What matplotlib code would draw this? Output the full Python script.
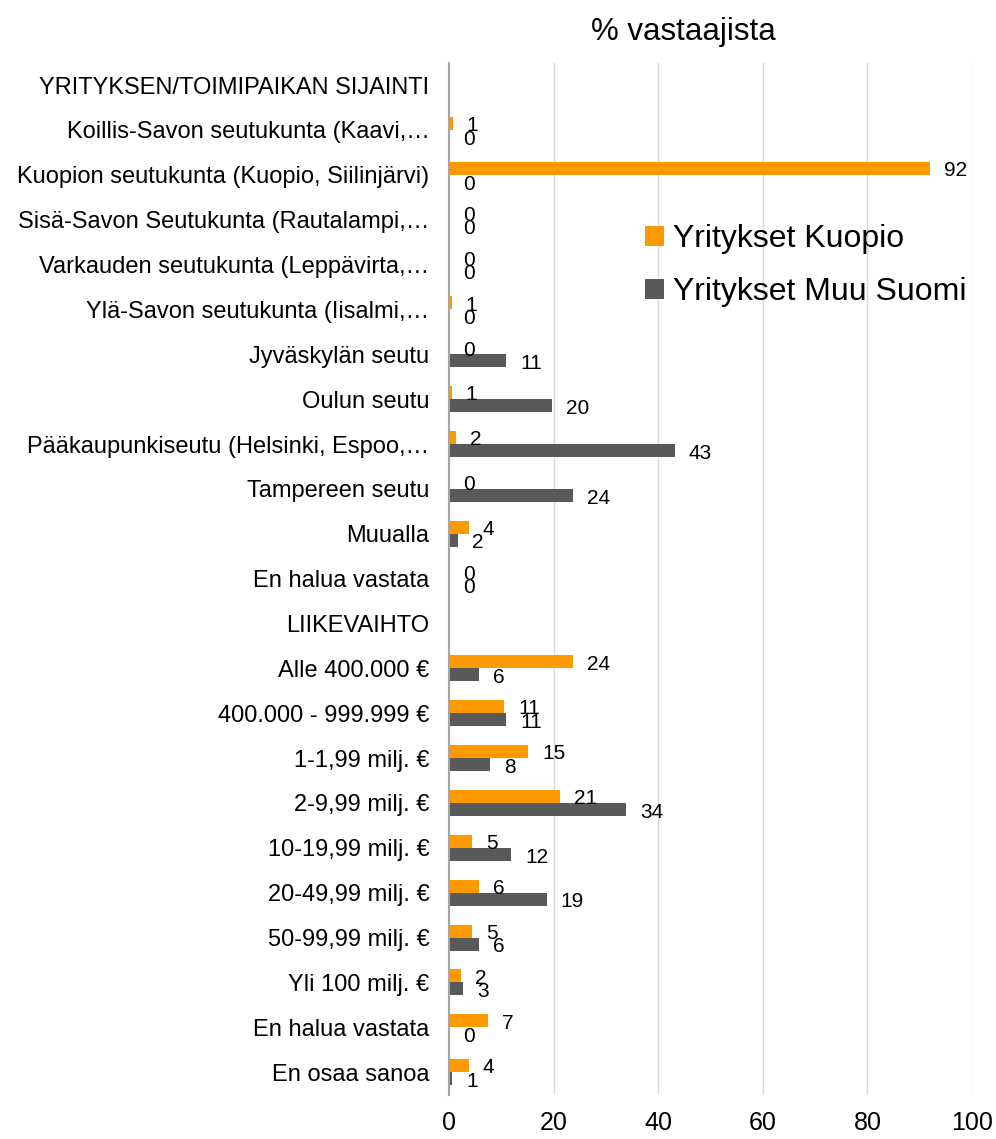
import matplotlib
matplotlib.use("Agg")
import matplotlib.pyplot as plt
import numpy as np

plt.rcParams['font.family'] = ['Liberation Sans', 'DejaVu Sans']

categories = [
    "YRITYKSEN/TOIMIPAIKAN SIJAINTI",
    "Koillis-Savon seutukunta (Kaavi,…",
    "Kuopion seutukunta (Kuopio, Siilinjärvi)",
    "Sisä-Savon Seutukunta (Rautalampi,…",
    "Varkauden seutukunta (Leppävirta,…",
    "Ylä-Savon seutukunta (Iisalmi,…",
    "Jyväskylän seutu",
    "Oulun seutu",
    "Pääkaupunkiseutu (Helsinki, Espoo,…",
    "Tampereen seutu",
    "Muualla",
    "En halua vastata",
    "LIIKEVAIHTO",
    "Alle 400.000 €",
    "400.000 - 999.999 €",
    "1-1,99 milj. €",
    "2-9,99 milj. €",
    "10-19,99 milj. €",
    "20-49,99 milj. €",
    "50-99,99 milj. €",
    "Yli 100 milj. €",
    "En halua vastata",
    "En osaa sanoa",
]

kuopio_values = [None, 0.7, 92.0, 0.0, 0.0, 0.5, 0.0, 0.5, 1.4, 0.0, 3.8, 0.0,
                 None, 23.7, 10.5, 15.1, 21.2, 4.4, 5.8, 4.4, 2.3, 7.4, 3.8]
muu_values = [None, 0.0, 0.0, 0.0, 0.0, 0.0, 10.9, 19.6, 43.2, 23.7, 1.8, 0.0,
              None, 5.8, 10.9, 7.9, 33.9, 11.9, 18.7, 5.8, 2.7, 0.0, 0.6]
kuopio_labels = [None, "1", "92", "0", "0", "1", "0", "1", "2", "0", "4", "0",
                 None, "24", "11", "15", "21", "5", "6", "5", "2", "7", "4"]
muu_labels = [None, "0", "0", "0", "0", "0", "11", "20", "43", "24", "2", "0",
              None, "6", "11", "8", "34", "12", "19", "6", "3", "0", "1"]

series_names = ["Yritykset Kuopio", "Yritykset Muu Suomi"]
xticks = [0, 20, 40, 60, 80, 100]

c_orange = "#FF9900"
c_gray = "#595959"

fig = plt.figure(figsize=(9.96, 11.39), dpi=100)
ax = fig.add_axes([0.4508, 0.039, 0.5251, 0.906])

n = len(categories)
y = np.arange(n)
h = 0.29

ko = np.array([np.nan if v is None else v for v in kuopio_values])
mu = np.array([np.nan if v is None else v for v in muu_values])

ax.barh(y - h / 2, np.nan_to_num(ko), height=h, color=c_orange, label=series_names[0], zorder=3)
ax.barh(y + h / 2, np.nan_to_num(mu), height=h, color=c_gray, label=series_names[1], zorder=3)

off = 14 / 5.22
for i in range(n):
    if kuopio_labels[i] is not None:
        ax.text(ko[i] + off, y[i] - h / 2 + 0.05, kuopio_labels[i], ha="left", va="center",
                fontsize=15, color="black", zorder=4)
    if muu_labels[i] is not None:
        ax.text(mu[i] + off, y[i] + h / 2 + 0.06, muu_labels[i], ha="left", va="center",
                fontsize=15, color="black", zorder=4)

ax.set_ylim(n - 0.5, -0.5)
ax.set_xlim(0, 100)
ax.set_yticks(y)
ax.set_yticklabels(categories, fontsize=17)
ax.set_xticks(xticks)
ax.set_xticklabels([str(t) for t in xticks], fontsize=18)
ax.tick_params(axis="both", length=0)
ax.tick_params(axis="y", pad=14)
ax.tick_params(axis="x", pad=12)

ax.xaxis.grid(True, color="#D9D9D9", linewidth=1, zorder=0)
for s in ["top", "right", "bottom"]:
    ax.spines[s].set_visible(False)
ax.spines["left"].set_color("#A6A6A6")
ax.spines["left"].set_linewidth(1.5)
ax.spines["left"].set_zorder(5)

fig.text(0.686, 0.972, "% vastaajista", ha="center", va="center", fontsize=22.5)

leg = fig.legend(loc="upper left", bbox_to_anchor=(0.6476, 0.803), bbox_transform=fig.transFigure,
                 frameon=False, fontsize=23, handlelength=0.58, handleheight=0.58,
                 handletextpad=0.3, labelspacing=0.72, borderpad=0, borderaxespad=0)

fig.savefig("out.png", dpi=100)
